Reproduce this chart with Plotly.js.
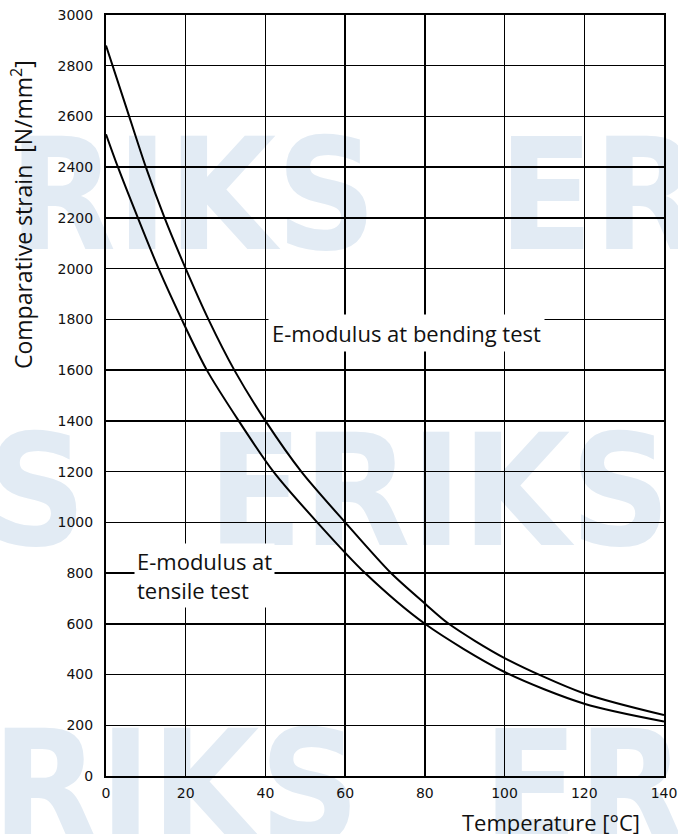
<!DOCTYPE html>
<html>
<head>
<meta charset="utf-8">
<script src="https://cdn.plot.ly/plotly-3.0.1.min.js"></script>
<style>html,body{margin:0;padding:0;background:#fff;}#chart{width:678px;height:834px;}</style>
</head>
<body>
<div id="chart"></div>
<script>
// Temperature [°C] and E-modulus [N/mm²]
var bendingTemp = [0, 5, 10, 14.7, 20, 25.7, 32.2, 40, 49, 60, 71.5, 80, 86, 100, 120, 140];
var bendingE    = [2880, 2640, 2400, 2200, 2000, 1800, 1600, 1400, 1200, 1000, 800, 680, 600, 465, 325, 240];
var tensileTemp = [0, 3, 8, 13.2, 19, 25.3, 33.3, 42, 53, 65, 80, 100, 120, 140];
var tensileE    = [2530, 2400, 2200, 2000, 1800, 1600, 1400, 1200, 1000, 800, 600, 410, 285, 215];
var xTicks = [0, 20, 40, 60, 80, 100, 120, 140];
var yTicks = [0, 200, 400, 600, 800, 1000, 1200, 1400, 1600, 1800, 2000, 2200, 2400, 2600, 2800, 3000];
var labelBending = "E-modulus at bending test";
var labelTensile = "E-modulus at<br>tensile test";
var watermarkText = "ERIKS";

var lineStyle = {color: '#000', width: 2, shape: 'spline', smoothing: 0.8};
var traces = [
  {x: bendingTemp, y: bendingE, mode: 'lines', line: lineStyle, hoverinfo: 'skip', showlegend: false},
  {x: tensileTemp, y: tensileE, mode: 'lines', line: lineStyle, hoverinfo: 'skip', showlegend: false}
];

// watermark (light-blue text behind the grid)
var wmCenters = [[0.07, 0.777], [1.118, 0.777], [-0.45, 0.388], [0.597, 0.388], [0.04, -0.0], [1.09, -0.0]];
var shapes = wmCenters.map(function (c) {
  return {
    type: 'rect', xref: 'paper', yref: 'paper', layer: 'below',
    x0: c[0] - 0.45, x1: c[0] + 0.45, y0: c[1] - 0.1, y1: c[1] + 0.1,
    line: {width: 0}, fillcolor: 'rgba(0,0,0,0)',
    label: {text: watermarkText, textposition: 'middle center',
            font: {family: '"Liberation Sans Narrow", "DejaVu Sans Condensed", "Liberation Sans", sans-serif', size: 155, weight: 'bold', color: '#e2ebf4'}}
  };
});

var tickFont = {family: '"DejaVu Sans", sans-serif', size: 14, color: '#111'};
var textFont = {family: '"Open Sans", "Noto Sans", sans-serif', size: 22, color: '#111'};

var layout = {
  width: 678, height: 834,
  margin: {l: 106, r: 14, t: 15, b: 58, pad: 0},
  paper_bgcolor: '#fff',
  plot_bgcolor: 'rgba(0,0,0,0)',
  showlegend: false,
  xaxis: {
    range: [0, 140], tickmode: 'array', tickvals: xTicks,
    showgrid: true, gridcolor: '#000', gridwidth: 1.5,
    showline: true, linecolor: '#000', linewidth: 2, mirror: true,
    zeroline: false, ticks: 'outside', ticklen: 3, tickcolor: 'rgba(0,0,0,0)',
    tickfont: tickFont, fixedrange: true
  },
  yaxis: {
    range: [0, 3000], tickmode: 'array', tickvals: yTicks,
    showgrid: true, gridcolor: '#000', gridwidth: 1.5,
    showline: true, linecolor: '#000', linewidth: 2, mirror: true,
    zeroline: false, ticks: 'outside', ticklen: 8, tickcolor: 'rgba(0,0,0,0)',
    tickfont: tickFont, fixedrange: true
  },
  shapes: shapes,
  annotations: [
    {x: 40.6, y: 1745, xref: 'x', yref: 'y', text: labelBending, showarrow: false,
     xanchor: 'left', yanchor: 'middle', bgcolor: '#fff', borderpad: 3, font: textFont},
    {x: 7.0, y: 790, xref: 'x', yref: 'y', text: labelTensile, showarrow: false, align: 'left',
     xanchor: 'left', yanchor: 'middle', bgcolor: '#fff', borderpad: 2, font: textFont},
    {x: 22, y: 215, xref: 'paper', yref: 'paper', xanchor: 'center', yanchor: 'middle',
     text: 'Comparative strain  [N/mm<sup>2</sup>]', textangle: -90, showarrow: false,
     font: {family: textFont.family, size: 23, color: '#111'}},
    {x: 642, y: 822, xref: 'paper', yref: 'paper', xanchor: 'right', yanchor: 'middle',
     text: 'Temperature [°C]', showarrow: false, font: textFont}
  ]
};
// convert pixel anchors of axis titles to paper coordinates
(function () {
  var L = 106, W = 678 - 106 - 14, T = 15, H = 834 - 15 - 58;
  var a2 = layout.annotations[2], a3 = layout.annotations[3];
  a2.x = (a2.x - L) / W; a2.y = (T + H - a2.y) / H;
  a3.x = (a3.x - L) / W; a3.y = (T + H - a3.y) / H;
})();

Plotly.newPlot('chart', traces, layout, {staticPlot: true, displayModeBar: false});
</script>
</body>
</html>
